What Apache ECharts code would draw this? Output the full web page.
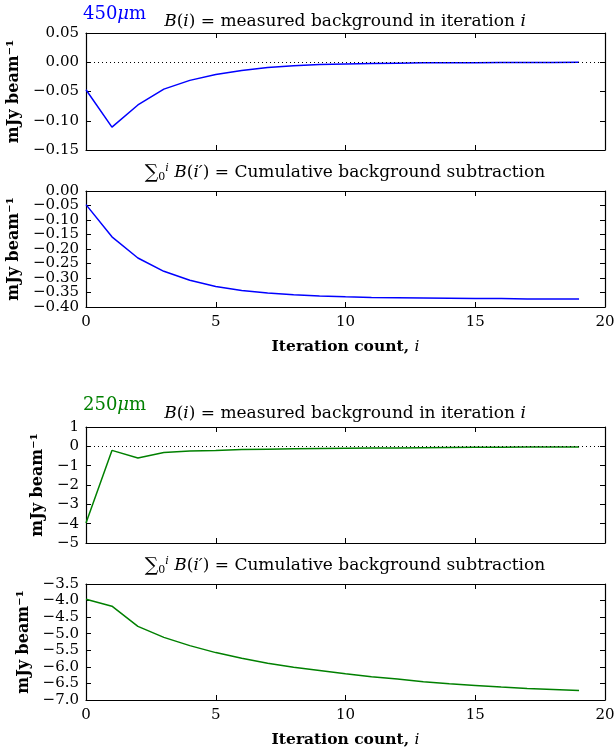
<!DOCTYPE html>
<html>
<head>
<meta charset="utf-8">
<script src="https://cdn.jsdelivr.net/npm/echarts@6/dist/echarts.min.js"></script>
<style>html,body{margin:0;padding:0;background:#fff}#c{width:616px;height:751px}</style>
</head>
<body>
<div id="c"></div>
<script>
// ---- data ----
const iterations = [0,1,2,3,4,5,6,7,8,9,10,11,12,13,14,15,16,17,18,19];
const bg450 = [-0.047,-0.111,-0.073,-0.046,-0.031,-0.021,-0.014,-0.009,-0.006,-0.004,-0.003,-0.002,-0.0015,-0.001,-0.001,-0.0007,-0.0005,-0.0004,-0.0003,-0.0002];
const cum450 = [-0.047,-0.158,-0.231,-0.277,-0.308,-0.329,-0.343,-0.352,-0.358,-0.362,-0.365,-0.367,-0.368,-0.369,-0.370,-0.371,-0.371,-0.372,-0.372,-0.372];
const bg250 = [-3.96,-0.21,-0.60,-0.32,-0.24,-0.21,-0.17,-0.15,-0.13,-0.11,-0.10,-0.09,-0.08,-0.07,-0.06,-0.05,-0.045,-0.04,-0.035,-0.03];
const cum250 = [-3.96,-4.17,-4.78,-5.11,-5.36,-5.57,-5.74,-5.89,-6.01,-6.11,-6.21,-6.30,-6.37,-6.45,-6.51,-6.56,-6.61,-6.65,-6.68,-6.71];
const xTicks = [0,5,10,15,20];
const yTicks1 = [-0.15,-0.10,-0.05,0.00,0.05];
const yTicks2 = [-0.40,-0.35,-0.30,-0.25,-0.20,-0.15,-0.10,-0.05,0.00];
const yTicks3 = [-5,-4,-3,-2,-1,0,1];
const yTicks4 = [-7.0,-6.5,-6.0,-5.5,-5.0,-4.5,-4.0,-3.5];

const FONT = 'DejaVu Serif';
const BLUE = '#0000ff', GREEN = '#008000';
const grids = [
  {left:86, right:11, top:33, height:117, outerBoundsMode:'none', containLabel:false},
  {left:86, right:11, top:191, height:116, outerBoundsMode:'none', containLabel:false},
  {left:86, right:11, top:427, height:116, outerBoundsMode:'none', containLabel:false},
  {left:86, right:11, top:584, height:116, outerBoundsMode:'none', containLabel:false}
];
const yTickSets = [yTicks1, yTicks2, yTicks3, yTicks4];
const yDec = [2,2,0,1];
const yGap = [55,55,32,40];
const xLabelShown = [false,true,false,true];
const seriesData = [bg450, cum450, bg250, cum250];
const colors = [BLUE, BLUE, GREEN, GREEN];

function fmt(v, d){ const s = Math.abs(v).toFixed(d); return (v < -1e-9 ? '\u2212' : '') + s; }

const xAxes = [], yAxes = [], series = [];
grids.forEach((g, gi) => {
  const base = {
    gridIndex: gi, type:'value', min:xTicks[0], max:xTicks[xTicks.length-1], interval:xTicks[1]-xTicks[0],
    axisLine:{show:true, onZero:false, lineStyle:{color:'#000', width:1.2}},
    axisTick:{show:true, inside:true, length:5, lineStyle:{color:'#000'}},
    splitLine:{show:false}
  };
  xAxes.push(Object.assign({}, base, {
    position:'bottom',
    axisLabel:{show:xLabelShown[gi], color:'#000', fontFamily:FONT, fontSize:15, margin:8, showMinLabel:true, showMaxLabel:true, hideOverlap:false},
    name: xLabelShown[gi] ? '{b|Iteration count, }{i|i}' : '',
    nameLocation:'middle', nameGap:32,
    nameTextStyle:{rich:{b:{fontFamily:FONT, fontWeight:'bold', fontSize:15.5, color:'#000'}, i:{fontFamily:FONT, fontStyle:'italic', fontSize:15.5, color:'#000'}}}
  }));
  xAxes.push(Object.assign({}, base, {position:'top', axisLabel:{show:false}}));
  const yt = yTickSets[gi];
  const ybase = {
    gridIndex: gi, type:'value', min:yt[0], max:yt[yt.length-1], interval:+(yt[1]-yt[0]).toFixed(4),
    axisLine:{show:true, onZero:false, lineStyle:{color:'#000', width:1.2}},
    axisTick:{show:true, inside:true, length:5, lineStyle:{color:'#000'}},
    splitLine:{show:false}
  };
  const lab = {show:true, color:'#000', fontFamily:FONT, fontSize:15, margin:7,
      showMinLabel:true, showMaxLabel:true, hideOverlap:false, formatter: v => fmt(v, yDec[gi])};
  if (gi === 1) {
    // dense labels: split into two interleaved label sets on the same scale
    lab.customValues = yt.filter((v, k) => k % 2 === 0);
  }
  yAxes.push(Object.assign({}, ybase, {
    position:'left',
    axisLabel: lab,
    name:'mJy beam\u207B\u00B9', nameLocation:'middle', nameRotate:90, nameGap:yGap[gi],
    nameTextStyle:{fontFamily:FONT, fontWeight:'bold', fontSize:16, color:'#000'}
  }));
  yAxes.push(Object.assign({}, ybase, {position:'right', axisLabel:{show:false}}));
  const s = {
    type:'line', xAxisIndex: gi*2, yAxisIndex: gi*2,
    data: iterations.map((it, k) => [it, seriesData[gi][k]]),
    showSymbol:false, symbol:'none', lineStyle:{color:colors[gi], width:1.5}, itemStyle:{color:colors[gi]},
    animation:false, silent:true
  };
  if (gi === 0 || gi === 2) {
    s.markLine = {silent:true, symbol:'none', label:{show:false},
      lineStyle:{color:'#000', type:[1,3], width:1}, data:[{yAxis:0}], animation:false};
  }
  series.push(s);
});
// extra left axis for panel 2 carrying the odd labels
{
  const yt = yTickSets[1];
  yAxes.push({
    gridIndex:1, type:'value', position:'left', offset:0,
    min:yt[0], max:yt[yt.length-1], interval:+(yt[1]-yt[0]).toFixed(4),
    axisLine:{show:false}, axisTick:{show:false}, splitLine:{show:false},
    axisLabel:{show:true, color:'#000', fontFamily:FONT, fontSize:15, margin:7, hideOverlap:false,
      customValues: yt.filter((v, k) => k % 2 === 1), formatter: v => fmt(v, 2)}
  });
}

const richT = {
  n:{fontFamily:FONT, fontWeight:'normal', fontSize:17, color:'#000'},
  it:{fontFamily:FONT, fontWeight:'normal', fontStyle:'italic', fontSize:17, color:'#000'},
  sm:{fontFamily:FONT, fontWeight:'normal', fontStyle:'italic', fontSize:11, color:'#000', padding:[0,0,9,0]},
  sb:{fontFamily:FONT, fontWeight:'normal', fontSize:11, color:'#000', padding:[9,0,0,0]},
  sum:{fontFamily:FONT, fontWeight:'normal', fontSize:19, color:'#000'}
};
const t1 = '{it|B}{n|(}{it|i}{n|) = measured background in iteration }{it|i}';
const t2 = '{sum|\u2211}{sb|0}{sm|i}{n| }{it|B}{n|(}{it|i\u2032}{n|) = Cumulative background subtraction}';

const hdr = c => ({fontWeight:'normal', rich:{a:{fontFamily:FONT, fontWeight:'normal', fontSize:18, color:c}, b:{fontFamily:FONT, fontWeight:'normal', fontStyle:'italic', fontSize:18, color:c}}});
const titles = [
  {text:'{a|450}{b|\u03BC}{a|m}', left:83, top:5, textStyle:hdr(BLUE)},
  {text:'{a|250}{b|\u03BC}{a|m}', left:83, top:396, textStyle:hdr(GREEN)},
  {text:t1, left:345, textAlign:'center', top:13, textStyle:{fontWeight:'normal', rich:richT}},
  {text:t2, left:345, textAlign:'center', top:163, textStyle:{fontWeight:'normal', rich:richT}},
  {text:t1, left:345, textAlign:'center', top:405, textStyle:{fontWeight:'normal', rich:richT}},
  {text:t2, left:345, textAlign:'center', top:556, textStyle:{fontWeight:'normal', rich:richT}}
].map(t => Object.assign({padding:0}, t));

const chart = echarts.init(document.getElementById('c'), null, {renderer:'canvas'});
chart.setOption({
  animation:false,
  backgroundColor:'#fff',
  title: titles,
  grid: grids,
  xAxis: xAxes,
  yAxis: yAxes,
  series: series
});
</script>
</body>
</html>
